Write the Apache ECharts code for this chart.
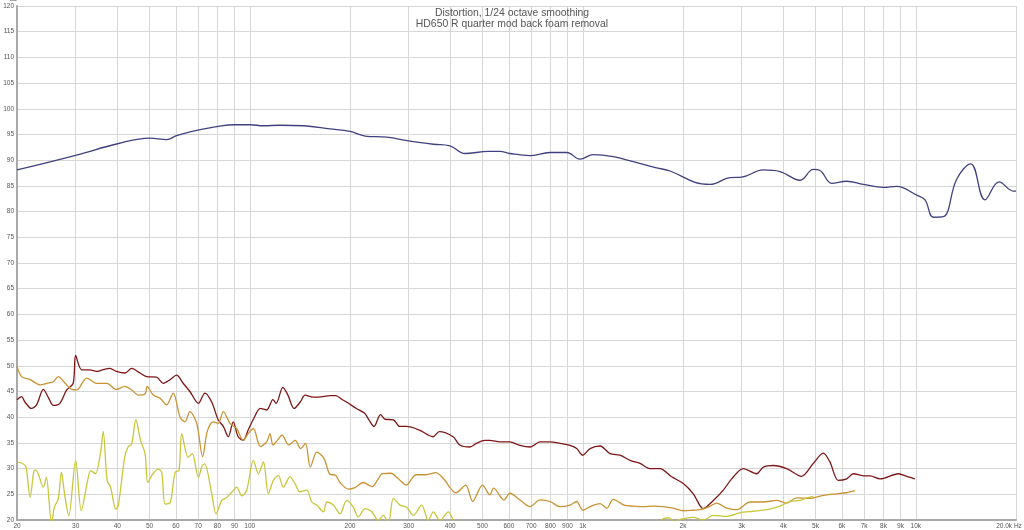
<!DOCTYPE html>
<html><head><meta charset="utf-8">
<script src="https://cdn.jsdelivr.net/npm/echarts@6/dist/echarts.min.js"></script>
<style>html,body{margin:0;padding:0;background:#fff}#c{width:1024px;height:530px}</style>
</head><body><div id="c"></div>
<script>
const titleLines = ['Distortion, 1/24 octave smoothing', 'HD650 R quarter mod back foam removal'];
const tickFreqs = [20,30,40,50,60,70,80,90,100,200,300,400,500,600,700,800,900,1000,2000,3000,4000,5000,6000,7000,8000,9000,10000,20000];
const tickLabels = ['20','30','40','50','60','70','80','90','100','200','300','400','500','600','700','800','900','1k','2k','3k','4k','5k','6k','7k','8k','9k','10k','20.0k Hz'];

const fundamental = [[20,88.1],[30.2,91.0],[40.1,93.2],[50.1,94.3],[56.3,94.0],[60.3,94.8],[69.3,95.8],[80.5,96.6],[90.3,96.9],[100,96.9],[110,96.7],[123,96.8],[145,96.7],[174,96.1],[200,95.6],[222,94.7],[258,94.5],[303,93.7],[356,93.1],[399,92.8],[443,91.3],[520,91.7],[564,91.7],[604,91.3],[694,90.9],[797,91.5],[895,91.5],[981,90.2],[1076,91.1],[1235,90.7],[1419,89.7],[1667,88.5],[1829,87.9],[2173,85.7],[2411,85.3],[2767,86.6],[3001,86.7],[3486,88.1],[3911,87.8],[4492,86.1],[4925,88.2],[5157,88],[5591,85.5],[6201,85.9],[6960,85.3],[7991,84.7],[8763,84.9],[10065,83.2],[10660,82.3],[11290,78.9],[12100,79],[13270,86.3],[14620,89.3],[16140,82.3],[17790,85.8],[19640,84],[20000,84]];

const thd = [[20,43.4],[20.65,44],[21.1,43],[22.1,41.7],[22.9,42.4],[24.0,45.4],[24.9,43.7],[25.7,42.3],[26.9,42.7],[28.2,45.3],[29.5,46.6],[30.0,52],[31.3,49.2],[33.1,49.2],[34.7,48.9],[36.1,49.2],[38.0,49.5],[39.8,48.9],[42.2,48.6],[44.2,49.5],[46.8,48.6],[49.0,47.9],[52.5,47.8],[55.0,46.6],[57.6,47.3],[60.3,48.2],[63.1,46.6],[66.1,45],[70.1,42.7],[73.3,44.7],[76.8,43],[80.4,39.5],[83.3,38.2],[86.2,36.2],[89.2,39.1],[92.3,36.2],[95.6,35.5],[98.9,37.5],[102.9,39.8],[107.6,41.7],[112.4,41.4],[117.4,43.4],[120,42.7],[125.7,45.8],[130.2,44.3],[135.9,41.7],[141.9,43],[146.6,44.3],[155,43.9],[166,44],[174,44.2],[181,44.2],[190,43.4],[198,42.7],[209,41.7],[221,40.8],[228,39.5],[236,38.2],[247,40.5],[255,39.6],[270,39.5],[282,38.2],[295,38.2],[323,37.5],[355,36.2],[371,37.2],[408,36.2],[427,34.6],[458,34.2],[479,34.9],[508,35.5],[526,35.5],[564,35.2],[604,35.2],[648,34.5],[695,34.2],[744,35.2],[797,35.2],[855,34.9],[916,34.5],[959,33.9],[1000,32.6],[1052,33.9],[1127,34.4],[1208,32.9],[1294,32.6],[1387,31.6],[1486,31],[1592,30],[1706,30],[1849,28.4],[2004,27.1],[2148,25.1],[2302,22.2],[2467,23.8],[2643,25.8],[2800,28],[3035,30],[3328,29],[3486,30.3],[3735,30.6],[4096,30],[4541,28.5],[4922,31],[5274,33],[5523,31.3],[5850,27.7],[6200,28],[6500,29],[6955,28.6],[7290,28.6],[7810,28],[8870,29],[9390,28.5],[9940,28]];

const h2 = [[20,49.9],[20.65,47.9],[21.9,47.3],[23.5,46.3],[24.6,46.6],[25.7,46.9],[26.6,47.9],[27.9,46.6],[29.2,45.4],[30.2,45.3],[32.4,47.6],[34.7,46.6],[37.2,46.6],[39.8,45.4],[42.2,46],[44.2,45.3],[46.3,44.3],[48.5,44.5],[49.2,46],[51.3,44.3],[53.8,43.7],[56.3,42.4],[58.9,44.7],[61.7,40.1],[63.9,39.1],[66.1,41.1],[69.3,38.8],[72.2,32.3],[74.5,37.2],[77.6,39.1],[80.4,38.8],[83.3,41.1],[87.2,38.8],[91.3,37.8],[95.6,35.5],[98.9,36.8],[102.5,37.8],[107.6,34.3],[112.4,35.2],[115,36.8],[117.4,34.6],[121,35.5],[125,36.5],[131,34.6],[137,35.5],[142,33.9],[147,34.9],[152,30.3],[159,33.2],[167,32],[174,28.9],[181,28.7],[187,27.2],[198,26],[207,26.3],[219,27.3],[233,26.5],[242,27.8],[250,29],[265,29.1],[282,27.8],[295,26.8],[316,28.8],[338,28.8],[362,29.2],[388,27.5],[397,26.5],[416,25.3],[445,26.8],[467,23.6],[500,26.8],[526,24.9],[540,26.2],[580,23.9],[604,25.2],[648,23.9],[695,22.6],[744,23.9],[797,23.6],[855,22.6],[916,22.9],[959,23.6],[1000,21.9],[1060,22.7],[1127,23.2],[1180,22.3],[1235,24],[1330,22.9],[1420,22.7],[1520,22.6],[1630,22.7],[1745,22.6],[1870,22.3],[2004,21.8],[2150,21.9],[2250,22],[2400,22.6],[2524,23.3],[2705,22.3],[2899,22],[3177,23.5],[3484,23.5],[3820,23.8],[4095,23.3],[4389,24.3],[4812,24.2],[5277,24.8],[5785,25.1],[6200,25.3],[6570,25.7]];

const h3 = [[20,31.2],[20.2,31.2],[20.9,30.9],[21.3,30.3],[21.9,24.4],[22.5,29.6],[22.8,29.7],[24,26.4],[24.5,28.3],[25.4,19.3],[25.9,22.5],[26.6,24.1],[27.2,29.3],[27.8,25],[28.6,20.8],[30,31.6],[31.2,21.8],[32.6,27.7],[33.3,29.6],[34.4,29],[35.6,32.9],[36.3,37.2],[37.3,27.7],[38.2,26.4],[39.6,22.1],[40.3,22.8],[42.1,32.2],[43.1,34.2],[44.2,34.8],[45.5,39.5],[47,35.5],[48.5,32.9],[49.4,27.3],[51.2,29],[53.1,29.9],[54.4,29.3],[55.7,23.1],[57.7,23.4],[59.7,29.3],[61.3,29.6],[62.5,36.8],[65.3,32.2],[67.2,32.9],[70.1,28.3],[72,30.6],[73.2,30.9],[76.9,25.1],[79.2,21.2],[82.4,23.8],[85.3,24.4],[88.3,25.4],[91.4,26.4],[94.6,24.7],[97.9,25.8],[102.5,31.6],[106.2,29],[109.9,31.3],[113.7,25.1],[117.7,27.7],[121.9,28.7],[126.1,26.4],[132.1,28.4],[136.7,27.1],[141.5,25.5],[148.3,25.8],[153.5,23.5],[158.9,22.9],[166.4,21.6],[170.3,23.5],[178.3,22.9],[186.6,21.2],[195.5,23.8],[204.6,22.5],[211.8,20.6],[221.9,22.2],[232.4,21.6],[243.4,19.9],[251.9,20.9],[260.8,19.4],[270,24.2],[282.7,22.9],[296,22.5],[310,20.9],[328.4,22.9],[343.8,19.9],[355.7,21.6],[372.5,19.9],[394.6,21.6],[408.5,19.9],[420,17],[430,'-'],[1680,18.5],[1750,20.3],[1820,20.4],[1880,19.6],[1960,20.1],[2148,20.5],[2302,20],[2467,20.9],[2705,20.7],[2966,21.4],[3252,21.7],[3566,22],[3910,22.7],[4190,23.6],[4490,23.8],[4700,24.3],[4925,24.6]];

const L = v => Math.log10(v);
const tickPos = tickFreqs.map(L);
function labelFor(v) {
  for (let i = 0; i < tickPos.length; i++) {
    if (Math.abs(tickPos[i] - v) < 1e-6) {
      return i === tickPos.length - 1 ? '{r|' + tickLabels[i] + '}' : tickLabels[i];
    }
  }
  return '';
}
const FONT = 'Liberation Sans, Arial, sans-serif';
const chart = echarts.init(document.getElementById('c'), null, {renderer: 'canvas'});
function line(name, data, color, smooth) {
  return {name, type: 'line', data, xAxisIndex: 0, yAxisIndex: 0, showSymbol: false, smooth,
    connectNulls: false, clip: true, lineStyle: {color, width: 1.3}, itemStyle: {color}};
}
chart.setOption({
  animation: false,
  backgroundColor: '#fff',
  title: {text: titleLines.join('\n'), left: 'center', top: 3,
    textStyle: {fontSize: 10.4, fontWeight: 'normal', color: '#555', lineHeight: 10.5, fontFamily: FONT}},
  grid: {left: 17, right: 8, top: 6, bottom: 10, containLabel: false, outerBoundsMode: 'none'},
  xAxis: [
    {type: 'log', logBase: 10, min: 20, max: 20000, show: false, position: 'top'},
    {type: 'value', min: L(20), max: L(20000), position: 'bottom',
      axisLine: {show: true, lineStyle: {color: '#a9a9a9', width: 2}},
      axisTick: {show: false, customValues: tickPos},
      axisLabel: {customValues: tickPos, formatter: labelFor, fontSize: 6.5, color: '#555', margin: 3, fontFamily: FONT,
        rich: {r: {fontSize: 6.5, color: '#555', fontFamily: FONT, padding: [0, 14, 0, 0]}}},
      splitLine: {show: true, lineStyle: {color: '#d6d6d6', width: 1}}}
  ],
  yAxis: {type: 'value', min: 20, max: 120, interval: 5, name: 'dB', nameLocation: 'end', nameGap: 0,
    nameTextStyle: {fontSize: 6, lineHeight: 6, color: '#555', align: 'right', verticalAlign: 'bottom', fontFamily: FONT, padding: [0, 0, 0, 0]},
    axisLine: {show: true, lineStyle: {color: '#a9a9a9', width: 2}},
    axisTick: {show: false},
    axisLabel: {fontSize: 6.5, color: '#555', margin: 3, fontFamily: FONT},
    splitLine: {show: true, lineStyle: {color: '#d6d6d6', width: 1}}},
  series: [
    line('Fundamental', fundamental, '#41417f', 0.4),
    line('THD', thd, '#7d1717', 0.3),
    line('H2', h2, '#c99333', 0.3),
    line('H3', h3, '#c9c63a', 0.3)
  ]
});
</script></body></html>
